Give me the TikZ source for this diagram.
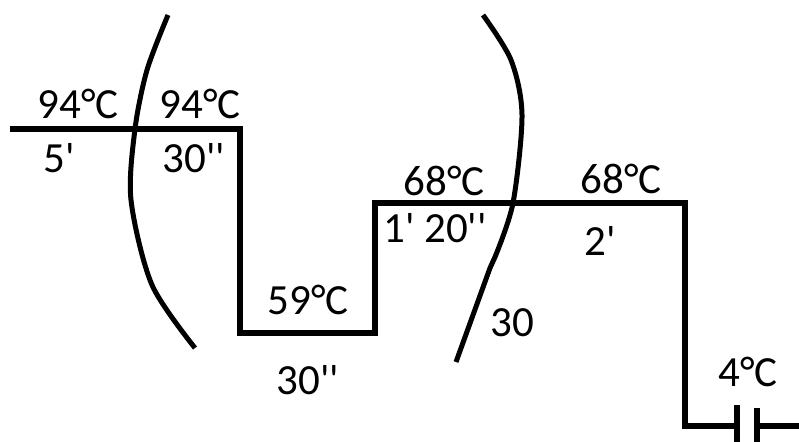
\documentclass[tikz,border=0pt]{standalone}
\usepackage{fontspec}
\setmainfont{Carlito}[Ligatures=TeXOff]
\usetikzlibrary{positioning}
\begin{document}
\begin{tikzpicture}[x=1pt,y=-1pt,
  profile/.style={line width=5.5pt,line join=miter},
  bracket/.style={line width=5pt},
  lab/.style={font=\fontsize{43}{45}\selectfont,inner sep=0pt}]
  \useasboundingbox (0,0) rectangle (799,441);
  % temperature profile
  \draw[profile] (10,129) -- (240,129) -- (240,333) -- (375,333)
    -- (375,203) -- (685,203) -- (685,426) -- (737,426);
  \draw[profile] (737,405) -- (737,445);
  \draw[profile] (757,408) -- (757,445);
  \draw[profile] (757,426) -- (805,426);
  % cycle brackets
  \draw[bracket] plot[smooth] coordinates
    {(168,15)(147,70)(135,129)(131,200)(152,285)(195,348)};
  \draw[bracket] plot[smooth] coordinates
    {(483,15)(511,60)(522,115)(513,203)(495,257)}
    -- (490,268) -- (456,362);
  % labels
  \foreach \x/\y/\txt/\nm in {78/104/94°C/tdena, 200/104/94°C/tdenb,
      59/158/5'/ttinit, 194/158/30''/ttden,
      308/300/59°C/tann, 308/380/30''/ttann,
      444/181/68°C/text, 435/228/1' 20''/ttext,
      621/179/68°C/tfin, 600/241/2'/ttfin,
      512/323/30/ncyc, 748/372/4°C/thold}{
    \node[lab] (\nm) at (\x,\y) {\txt};
  }
\end{tikzpicture}
\end{document}
